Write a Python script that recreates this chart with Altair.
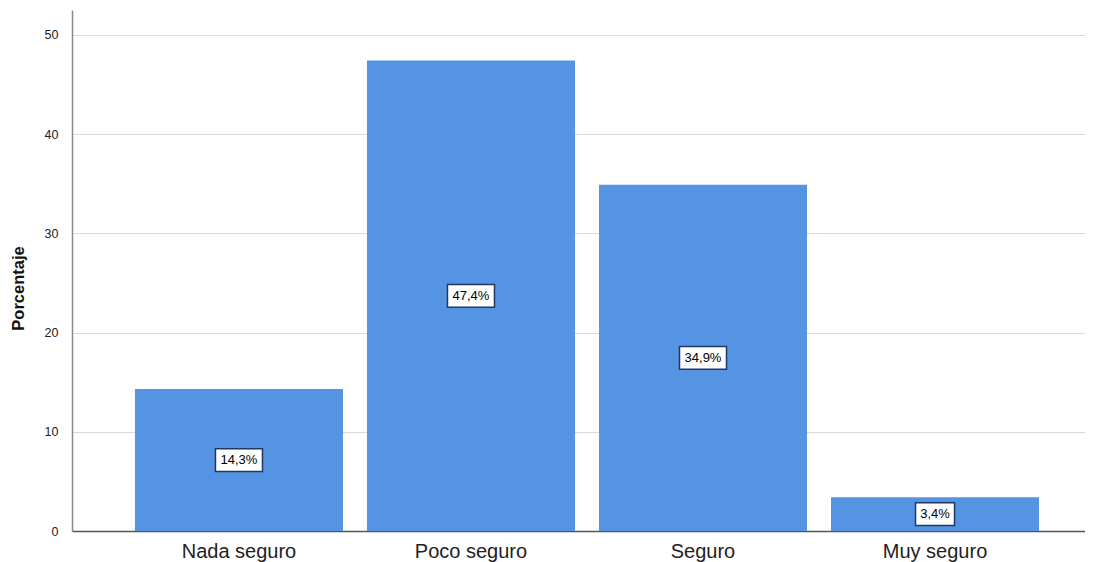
import altair as alt
import pandas as pd

categories = ["Nada seguro", "Poco seguro", "Seguro", "Muy seguro"]
values = [14.3, 47.4, 34.9, 3.4]
labels = ["14,3%", "47,4%", "34,9%", "3,4%"]
y_ticks = [0, 10, 20, 30, 40, 50]

df = pd.DataFrame({"cat": categories, "val": values, "lab": labels})
df["mid"] = df["val"] / 2
df["lo"] = df["mid"] - 1.15
df["hi"] = df["mid"] + 1.15
df["n"] = df["lab"].str.len()

FONT = "Liberation Sans"

xscale = alt.Scale(domain=categories, paddingInner=0.1034, paddingOuter=0.2347, align=0.578)
yscale = alt.Scale(domain=[0, 52.5], nice=False, zero=True)

x = alt.X("cat:N", scale=xscale, sort=categories,
          axis=alt.Axis(title=None, labelAngle=0, labelFontSize=20, labelFont=FONT,
                        labelColor="#222222", ticks=False, domain=True,
                        domainColor="#555555", labelPadding=10))
y = alt.Y("val:Q", scale=yscale,
          axis=alt.Axis(values=y_ticks, title="Porcentaje", titleFont=FONT, titleFontSize=16.5,
                        titleFontWeight="bold", titleColor="#111111", labelFont=FONT,
                        labelFontSize=12.5, labelColor="#222222", ticks=False,
                        domainColor="#888888", gridColor="#d9d9d9", grid=True,
                        labelPadding=14, titleAngle=270, titleX=-54, titleY=278,
                        titleAnchor="middle", titleAlign="center", titleBaseline="middle"))

bars = alt.Chart(df).mark_bar(color="#5593E3").encode(x=x, y=y)

box5 = alt.Chart(df).transform_filter("datum.n == 5").mark_bar(
    width=47, fill="white", stroke="#1f3864", strokeWidth=1.5
).encode(x=alt.X("cat:N", scale=xscale, sort=categories), y=alt.Y("lo:Q", scale=yscale), y2="hi:Q")

box4 = alt.Chart(df).transform_filter("datum.n == 4").mark_bar(
    width=39, fill="white", stroke="#1f3864", strokeWidth=1.5
).encode(x=alt.X("cat:N", scale=xscale, sort=categories), y=alt.Y("lo:Q", scale=yscale), y2="hi:Q")

text = alt.Chart(df).mark_text(font=FONT, fontSize=13, color="black", baseline="middle").encode(
    x=alt.X("cat:N", scale=xscale, sort=categories), y=alt.Y("mid:Q", scale=yscale), text="lab:N"
)

chart = alt.layer(bars, box5, box4, text).properties(
    width=1013, height=521,
    autosize=alt.AutoSizeParams(type="none"),
    padding={"left": 64, "top": 2, "right": 0, "bottom": 31},
).configure_view(stroke=None).configure_axis(domainWidth=1.5)

chart.save("out.html", embed_options={"renderer": "svg", "actions": False})
